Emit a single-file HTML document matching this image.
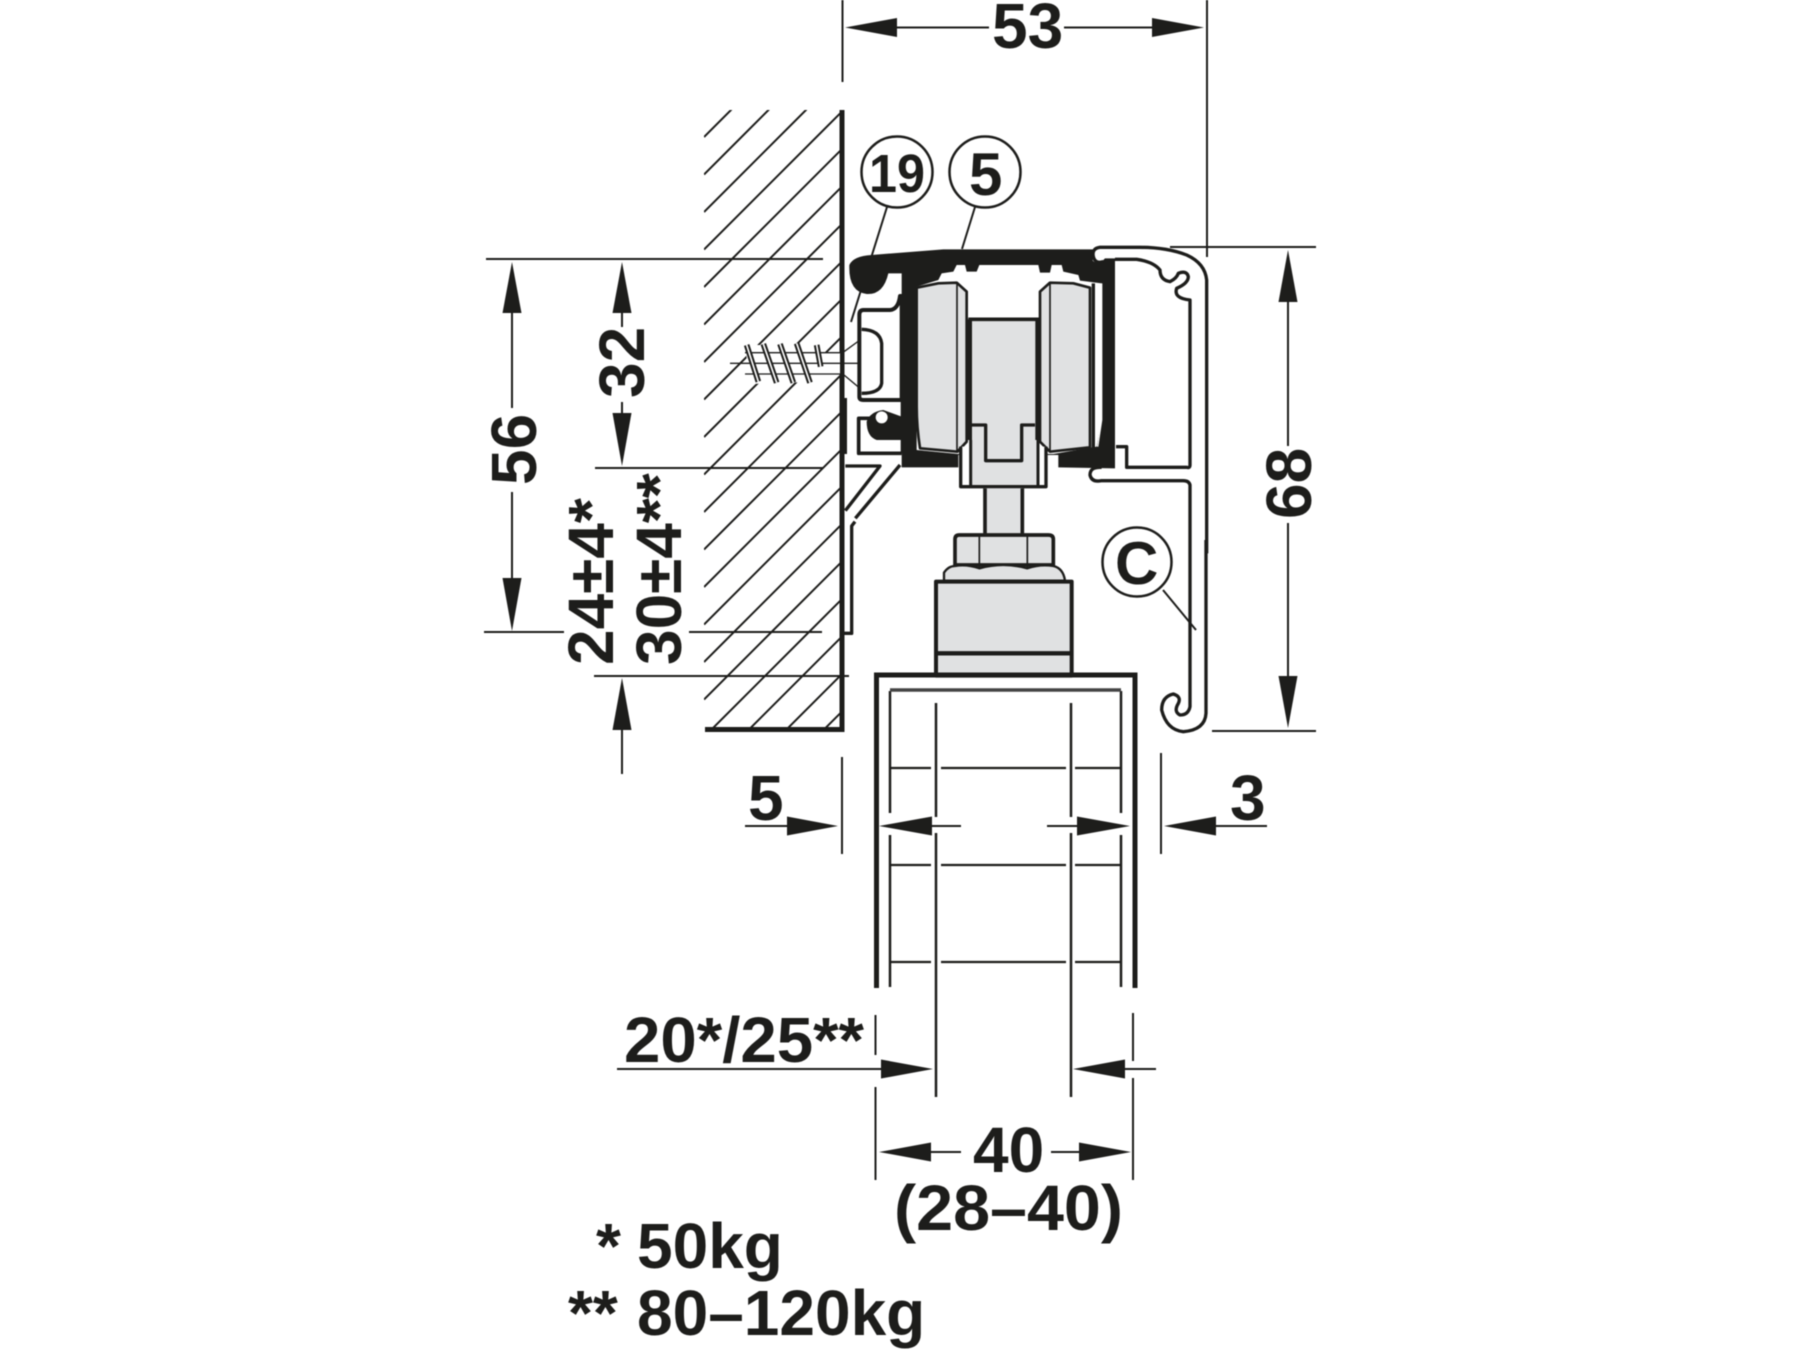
<!DOCTYPE html>
<html><head><meta charset="utf-8"><style>
html,body{margin:0;padding:0;background:#fff}
svg{display:block;filter:blur(.5px)}
text{font-family:"Liberation Sans",Arial,sans-serif;font-weight:700;fill:#1d1d1b;font-size:64px}
</style></head><body>
<svg xmlns="http://www.w3.org/2000/svg" width="1800" height="1350" viewBox="0 0 1800 1350">
<defs><clipPath id="h"><rect x="704" y="110" width="138" height="618"/></clipPath></defs>
<rect width="1800" height="1350" fill="#fff"/>

<!-- hatching -->
<g clip-path="url(#h)" stroke="#1d1d1b" stroke-width="2" fill="none">
<path d="M704 137L904 -63M704 174.500L904 -25.500M704 212L904 12M704 249.500L904 49.500M704 287L904 87M704 324.500L904 124.500M704 362L904 162M704 399.500L904 199.500M704 437L904 237M704 474.500L904 274.500M704 512L904 312M704 549.500L904 349.500M704 587L904 387M704 624.500L904 424.500M704 662L904 462M704 699.500L904 499.500M704 737L904 537M704 774.500L904 574.500M704 812L904 612M704 849.500L904 649.500"/>
</g>

<!-- wall -->
<g fill="#1d1d1b">
<rect x="839.500" y="110" width="5" height="622"/>
<rect x="705" y="727" width="139.500" height="5"/>
<rect x="839.500" y="398" width="7.500" height="56"/>
</g>

<!-- screw -->
<g transform="translate(470 230) scale(.33333)">
<rect x="1040" y="368" width="70" height="64" fill="#fff"/>
<polygon points="825,345 1055,345 1055,455 840,462" fill="#fff"/>
<g stroke="#1d1d1b" fill="none">
<path d="M780 400H1200M825 368H1110M825 432H1110" stroke-width="4"/>
<path d="M1122 365L1170 330M1122 435L1170 475" stroke-width="4"/>
<path d="M830 345L865 455M880 342L920 458M930 342L970 458M980 340L1020 458M1040 345L1052 410" stroke-width="17"/>
<path d="M830 345L865 455M880 342L920 458M930 342L970 458M980 340L1020 458M1040 345L1052 410" stroke="#fff" stroke-width="5"/>
</g>
</g>

<!-- upper mechanism, 3x zoom coordinates -->
<g transform="translate(820 220) scale(.33333)" stroke-linejoin="round">
<!-- left brackets -->
<g fill="#fff" stroke="#1d1d1b">
<path d="M118 285Q118 270 130 270H210Q235 268 240 228L245 228V540H130Q118 540 118 530Z" stroke-width="12"/>
<path d="M125 328Q180 330 185 370V490Q180 520 125 520" stroke-width="10"/>
<path d="M150 595H116V700H245" stroke-width="11" fill="none"/>
<path d="M76 738H180L76 872" stroke-width="10"/>
<path d="M240 735L106 895" stroke-width="10" fill="none"/>
</g>
<!-- black body -->
<path d="M88 135Q100 108 155 105L370 88H818V122Q835 138 855 115H885V745L715 742V705H415V742H245V160H205Q190 225 140 222Q85 215 88 135Z" fill="#1d1d1b"/>
<path d="M140 605Q150 575 190 570L245 590V660H170Q140 650 140 605Z" fill="#1d1d1b"/>
<circle cx="185" cy="592" r="18" fill="#fff"/>
<path d="M245 540V700" stroke="#1d1d1b" stroke-width="6"/>
<!-- pocket -->
<path d="M355 180L365 160L400 155L410 135H435L440 155H470L478 135H655L660 158H690L695 135H725L730 155L775 165L780 182L845 190V600L830 680L700 702H415L290 690V200Z" fill="#fff"/>
<!-- center gray column -->
<rect x="450" y="300" width="205" height="500" fill="#e0e1e2"/>
<!-- wheels -->
<path d="M290 203L355 190L410 188L440 215V665L412 695L300 685Q290 620 290 560Z" fill="#e0e1e2" stroke="#1d1d1b" stroke-width="8"/>
<path d="M810 203L760 190L690 188L660 215V665L690 695L810 682Z" fill="#e0e1e2" stroke="#1d1d1b" stroke-width="8"/>
<path d="M411 190V692M690 190V692" stroke="#1d1d1b" stroke-width="5"/>
<path d="M820 190V690" stroke="#1d1d1b" stroke-width="10"/>
<path d="M845 190V600L833 680" stroke="#fff" stroke-width="4" fill="none"/>
<!-- column lines -->
<path d="M445 298H657" stroke="#1d1d1b" stroke-width="11"/>
<path d="M450 298V660M652 298V660" stroke="#1d1d1b" stroke-width="12" fill="none"/>
<path d="M455 615H497V722H605V615H645" stroke="#1d1d1b" stroke-width="10" fill="none"/>
<!-- fork -->
<rect x="424" y="680" width="28" height="118" fill="#fff"/>
<rect x="652" y="680" width="26" height="118" fill="#fff"/>
<path d="M422 680V800H678V680" stroke="#1d1d1b" stroke-width="10" fill="none"/>
<path d="M452 660V796M654 660V796" stroke="#1d1d1b" stroke-width="9" fill="none"/>
<!-- right profile -->
<path d="M885 118H950Q1000 125 1020 150Q1020 180 1050 185Q1070 175 1075 160Q1100 150 1105 170Q1105 190 1070 205Q1060 235 1110 240V735Q1110 745 1100 742H920V680H888V118Z" fill="#fff"/>
<path d="M885 118H950Q1000 125 1020 150Q1020 180 1050 185Q1070 175 1075 160Q1100 150 1105 170Q1105 190 1070 205Q1060 235 1110 240V735Q1110 745 1100 742H920V680H888" fill="none" stroke="#1d1d1b" stroke-width="10"/>
<path d="M850 125Q825 132 820 110Q815 85 840 82H960Q1040 82 1100 105Q1155 130 1160 180V1000" fill="none" stroke="#1d1d1b" stroke-width="10"/>
</g>

<!-- lower mechanism -->
<g transform="translate(820 440) scale(.33333)" stroke-linejoin="round">
<rect x="495" y="145" width="112" height="140" fill="#e0e1e2"/>
<path d="M495 145V280M607 145V280" stroke="#1d1d1b" stroke-width="11" fill="none"/>
<path d="M405 375V298Q405 285 418 285H685Q700 285 700 298V375Z" fill="#e0e1e2" stroke="#1d1d1b" stroke-width="11"/>
<path d="M478 290V385M622 290V385" stroke="#1d1d1b" stroke-width="5"/>
<path d="M372 422V398Q385 378 405 378Q440 372 478 385Q550 365 622 385Q660 372 700 378Q730 385 735 422Z" fill="#e0e1e2" stroke="#1d1d1b" stroke-width="7"/>
<rect x="348" y="425" width="407" height="282" fill="#e0e1e2" stroke="#1d1d1b" stroke-width="12"/>
<path d="M348 640H755" stroke="#1d1d1b" stroke-width="13"/>
<!-- lower profile hook -->
<path d="M845 82Q810 80 810 105Q815 128 845 122H1090Q1107 122 1110 135V800Q1105 825 1080 825Q1060 815 1075 790Q1085 770 1060 762Q1025 770 1025 810Q1040 870 1090 875Q1155 870 1158 820V300" fill="none" stroke="#1d1d1b" stroke-width="10"/>
<path d="M70 580H95V258L105 245" fill="none" stroke="#1d1d1b" stroke-width="10"/>
</g>

<!-- door -->
<g fill="none" stroke="#1d1d1b">
<path d="M876.500 988V675H1135V988" stroke-width="5"/>
<path d="M890 813V691M1121 813V691M890 835V987M1121 835V987" stroke-width="2.500"/>
<path d="M890 690H1121" stroke-width="3.500" stroke="#444"/>
<path d="M936 703V817M1071 703V817M936 833V1097M1071 833V1097" stroke-width="2.500"/>
<path d="M890 768H931M941 768H1066M1075 768H1121M890 865H931M941 865H1066M1075 865H1121M890 962H931M941 962H1066M1075 962H1121" stroke-width="2.200"/>
</g>

<!-- dimension lines -->
<g fill="none" stroke="#1d1d1b" stroke-width="2">
<path d="M842.500 0V82M1207 0V257M1170 247H1316M1212 731H1316"/>
<path d="M897 27.500H989M1064 27.500H1152"/>
<path d="M486 259H823M595 468H823M484 632H564M689 632H822M594 676H849"/>
<path d="M512 313V408M512 492V578M622 313V327M622 402V413M622 730V774"/>
<path d="M1288 302V446M1288 523V676"/>
<path d="M745 826H787M842 757V854M1161 753V854M1216 826H1267M932 826H961M1047 826H1077"/>
<path d="M875.500 1015V1055M875.500 1087V1180M1133 1013V1061M1133 1078V1180"/>
<path d="M617 1069H881M1125 1069H1156M931 1152H961M1051 1152H1079"/>
<path d="M887 207L851 322M975 207L962 249M1163 590L1196 630"/>
</g>

<!-- arrowheads -->
<g fill="#1d1d1b">
<polygon points="845,27.500 897,18 897,37"/>
<polygon points="1204,27.500 1152,18 1152,37"/>
<polygon points="512,262 502.500,313 521.500,313"/>
<polygon points="512,631 502.500,578 521.500,578"/>
<polygon points="622,262 612.500,313 631.500,313"/>
<polygon points="622,466 612.500,413 631.500,413"/>
<polygon points="622,678 612.500,730 631.500,730"/>
<polygon points="1288,250 1278.500,302 1297.500,302"/>
<polygon points="1288,728 1278.500,676 1297.500,676"/>
<polygon points="838,826 787,816.500 787,835.500"/>
<polygon points="1164,826 1216,816.500 1216,835.500"/>
<polygon points="879,826 932,816.500 932,835.500"/>
<polygon points="1130,826 1077,816.500 1077,835.500"/>
<polygon points="933,1069 881,1059.500 881,1078.500"/>
<polygon points="1073,1069 1125,1059.500 1125,1078.500"/>
<polygon points="879,1152 931,1142.500 931,1161.500"/>
<polygon points="1131,1152 1079,1142.500 1079,1161.500"/>
</g>

<!-- callouts -->
<g fill="#fff" stroke="#1d1d1b" stroke-width="2.500">
<circle cx="897" cy="172" r="35.500"/>
<circle cx="985" cy="172" r="35.500"/>
<circle cx="1137" cy="562" r="34.500"/>
</g>
<text x="869" y="192" style="font-size:54px" textLength="56" lengthAdjust="spacingAndGlyphs">19</text>
<text x="969" y="195" style="font-size:60px">5</text>
<text x="1115" y="584" style="font-size:60px">C</text>

<!-- dimension text -->
<text x="992" y="48">53</text>
<text transform="translate(536 485) rotate(-90)">56</text>
<text transform="translate(644 398) rotate(-90)">32</text>
<text transform="translate(613 665) rotate(-90)">24±4*</text>
<text transform="translate(681 665) rotate(-90)">30±4**</text>
<text transform="translate(1311 519) rotate(-90)">68</text>
<text x="748" y="820">5</text>
<text x="1230" y="820">3</text>
<text x="624" y="1062" textLength="240" lengthAdjust="spacingAndGlyphs">20*/25**</text>
<text x="973" y="1172">40</text>
<text x="894" y="1230" textLength="229" lengthAdjust="spacingAndGlyphs">(28–40)</text>
<text x="596" y="1268">*</text>
<text x="637" y="1268">50kg</text>
<text x="568" y="1335">**</text>
<text x="637" y="1335">80–120kg</text>
</svg>
</body></html>
